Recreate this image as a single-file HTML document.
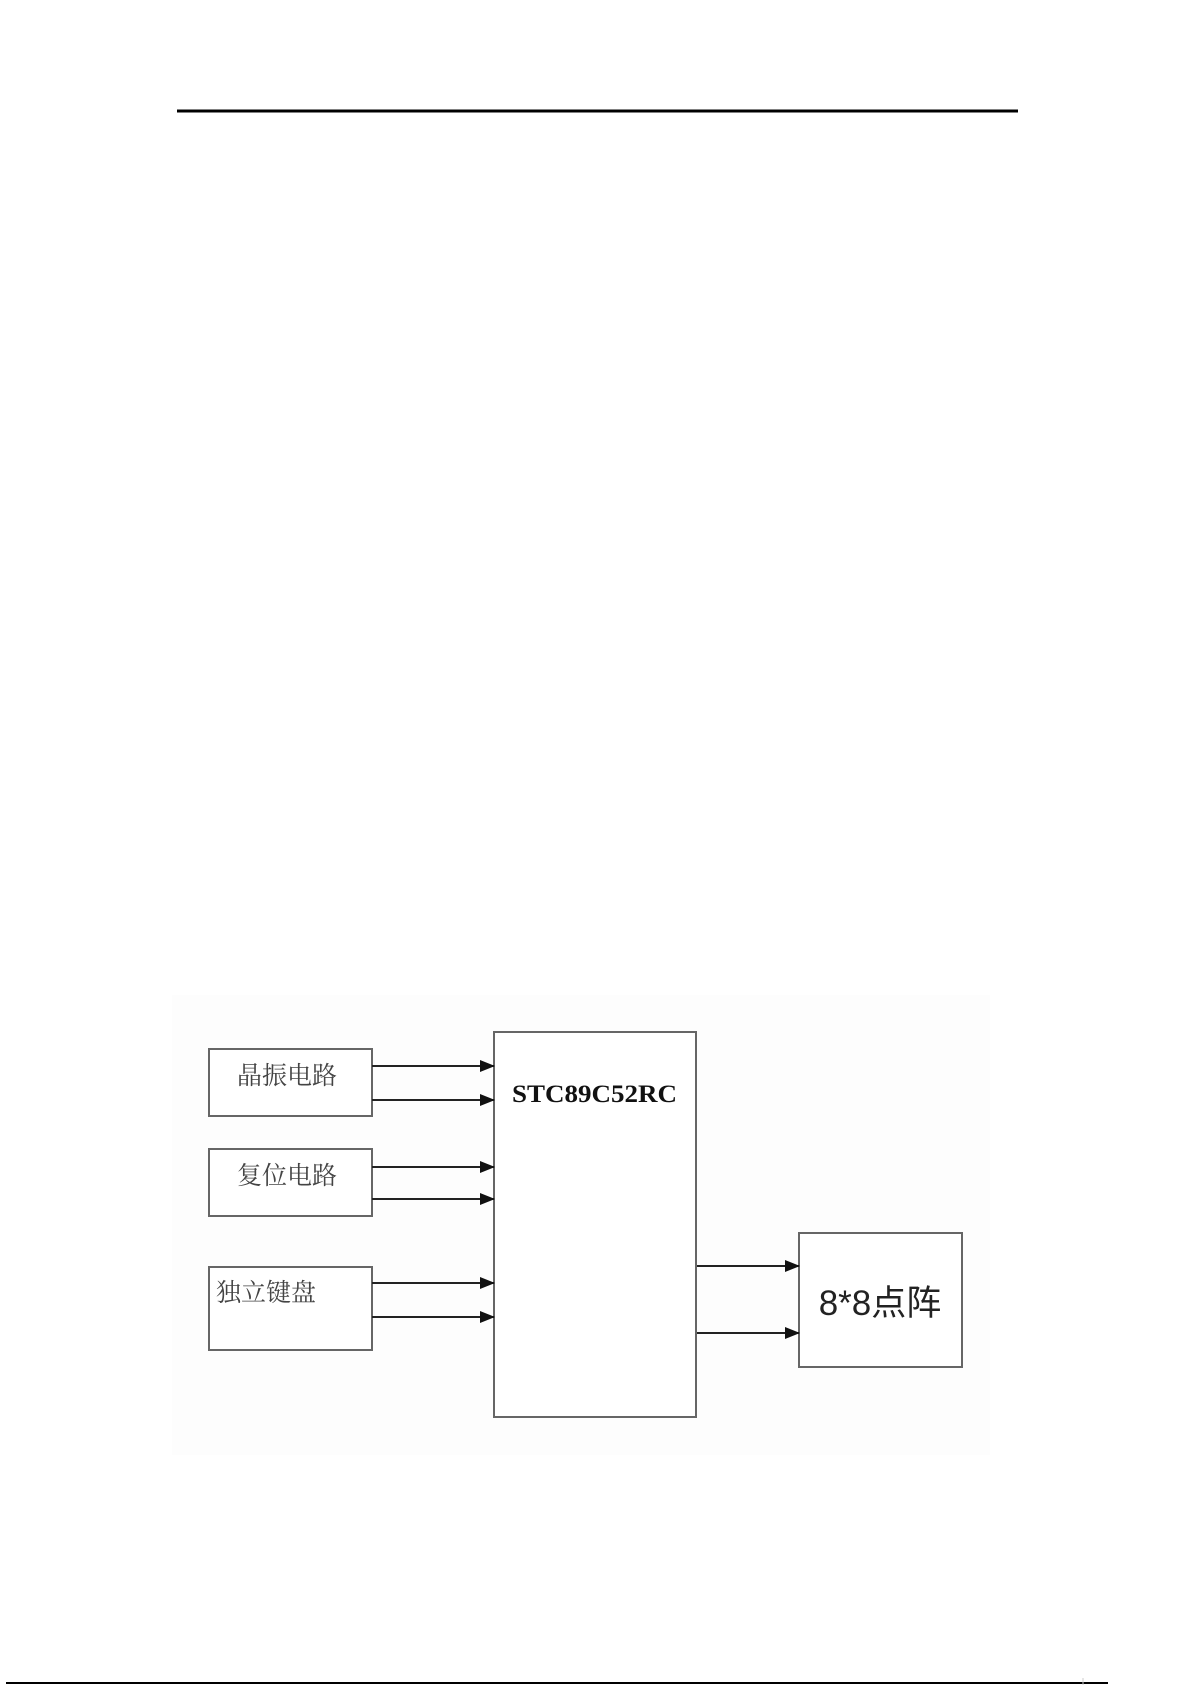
<!DOCTYPE html>
<html><head><meta charset="utf-8"><style>
html,body{margin:0;padding:0;background:#fff;}
svg{display:block;}
</style></head><body>
<svg width="1192" height="1685" viewBox="0 0 1192 1685" xmlns="http://www.w3.org/2000/svg">
<defs>
<marker id="a" markerWidth="15" markerHeight="12" refX="14" refY="6" orient="auto" markerUnits="userSpaceOnUse">
<path d="M0,0 L15,6 L0,12 Z" fill="#111"/>
</marker>
</defs>
<rect x="172" y="995" width="818" height="460" fill="#fdfdfd"/>
<line x1="177" y1="111" x2="1018" y2="111" stroke="#000" stroke-width="3"/>
<line x1="6" y1="1683" x2="1108" y2="1683" stroke="#000" stroke-width="2"/>
<line x1="1083" y1="1678" x2="1083" y2="1685" stroke="#ccc" stroke-width="1"/>
<g fill="#fff" stroke="#666" stroke-width="2">
<rect x="209" y="1049" width="163" height="67"/>
<rect x="209" y="1149" width="163" height="67"/>
<rect x="209" y="1267" width="163" height="83"/>
<rect x="494" y="1032" width="202" height="385"/>
<rect x="799" y="1233" width="163" height="134"/>
</g>
<g stroke="#222" stroke-width="2" marker-end="url(#a)">
<line x1="372" y1="1066" x2="494" y2="1066"/>
<line x1="372" y1="1100" x2="494" y2="1100"/>
<line x1="372" y1="1167" x2="494" y2="1167"/>
<line x1="372" y1="1199" x2="494" y2="1199"/>
<line x1="372" y1="1283" x2="494" y2="1283"/>
<line x1="372" y1="1317" x2="494" y2="1317"/>
<line x1="697" y1="1266" x2="799" y2="1266"/>
<line x1="697" y1="1333" x2="799" y2="1333"/>
</g>
<g font-family="'Liberation Serif','Noto Serif CJK SC',serif" fill="#444" font-size="25">
<text x="287" y="1084" text-anchor="middle">晶振电路</text>
<text x="287" y="1184" text-anchor="middle">复位电路</text>
<text x="216" y="1301">独立键盘</text>
</g>
<text x="512" y="1102" font-family="'Liberation Serif',serif" font-weight="bold" font-size="25" fill="#111" textLength="165" lengthAdjust="spacingAndGlyphs">STC89C52RC</text>
<text x="880" y="1315" text-anchor="middle" font-family="'Liberation Sans','Noto Sans CJK SC',sans-serif" font-size="35" fill="#222">8*8点阵</text>
</svg>
</body></html>
